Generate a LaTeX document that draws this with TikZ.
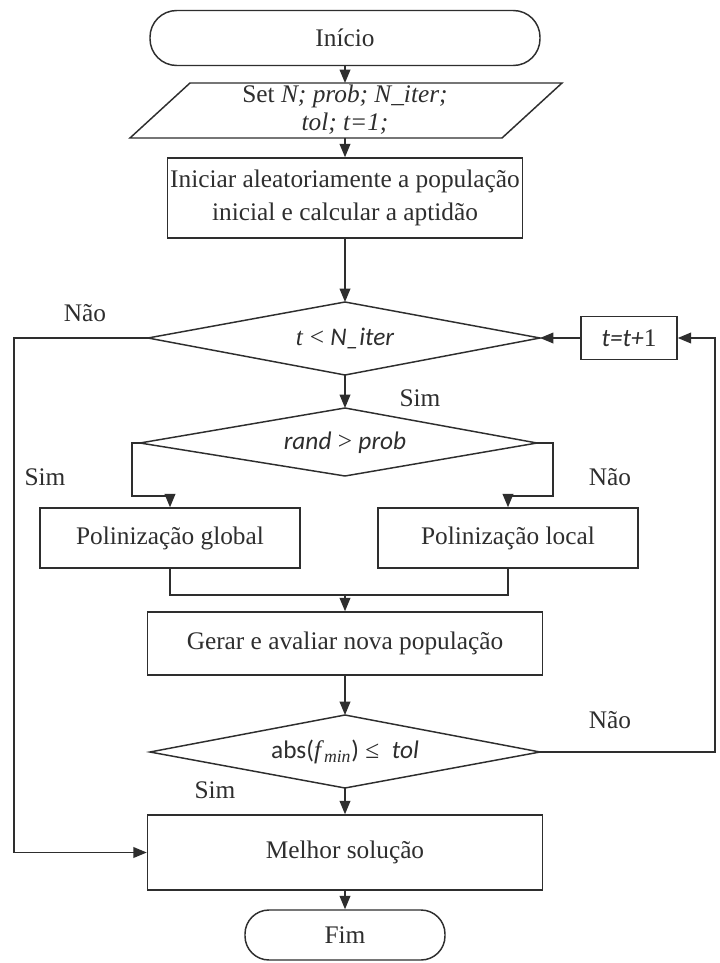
\documentclass[tikz,border=0pt]{standalone}
\usepackage{fontspec}
\setmainfont{Liberation Serif}
\newfontfamily\carl{Carlito}
\usetikzlibrary{arrows.meta}
\definecolor{ink}{HTML}{2E2E2E}
\newcommand{\mfs}{\fontsize{19}{25}\selectfont}
\begin{document}
\begin{tikzpicture}[x=0.75pt,y=-0.75pt, line width=1.1pt, draw=ink, text=ink,
  box/.style={draw, rectangle, inner sep=0pt, align=center, font=\mfs},
  term/.style={box, rounded corners=#1},
  lbl/.style={font=\mfs, inner sep=0pt},
  arr/.style={-{Triangle[length=10pt,width=8pt]}}]
\useasboundingbox[fill=white] (0,0) rectangle (719,963);

% terminals and boxes
\node[term=20pt, minimum width=292.5pt, minimum height=41.25pt] (inicio) at (345,38) {Início};
\node[box, minimum width=266.25pt, minimum height=60pt] (init) at (345,198)
  {Iniciar aleatoriamente a população\\inicial e calcular a aptidão};
\node[box, minimum width=72pt, minimum height=32.25pt] (inc) at (629,338) {{\carl\itshape t=t+}1};
\node[box, minimum width=195pt, minimum height=45pt] (glob) at (170,538) {Polinização global};
\node[box, minimum width=195pt, minimum height=45pt] (loc) at (508,538) {Polinização local};
\node[box, minimum width=296.25pt, minimum height=47.25pt] (gerar) at (345,643.5) {Gerar e avaliar nova população};
\node[box, minimum width=296.25pt, minimum height=56.25pt] (melhor) at (345,852.5) {Melhor solução};
\node[term=18pt, minimum width=150pt, minimum height=37.5pt] (fim) at (345,935) {Fim};

% parallelogram (input)
\coordinate (pTL) at (190,83);
\coordinate (pTR) at (562,83);
\coordinate (pBR) at (502,138);
\coordinate (pBL) at (130,138);
\coordinate (pT) at (345,83);
\coordinate (pB) at (345,138);
\draw (pTL) -- (pTR) -- (pBR) -- (pBL) -- cycle;
\node[lbl, align=center, font=\fontsize{19}{21}\selectfont] (param) at (345,110)
  {Set \textit{N; prob; N\_iter;}\\\textit{tol; t=1;}};

% diamond 1
\coordinate (d1l) at (148,338); \coordinate (d1r) at (540,338);
\coordinate (d1t) at (345,302); \coordinate (d1b) at (345,375);
\draw (d1l) -- (d1t) -- (d1r) -- (d1b) -- cycle;
\node[lbl] (d1) at (345,338) {\textit{t} < {\carl\itshape N\_iter}};

% diamond 2
\coordinate (d2l) at (140,443); \coordinate (d2r) at (537,443);
\coordinate (d2t) at (345,408); \coordinate (d2b) at (345,476);
\draw (d2l) -- (d2t) -- (d2r) -- (d2b) -- cycle;
\node[lbl] (d2) at (345,443) {{\carl\itshape rand} > {\carl\itshape prob}};

% diamond 3
\coordinate (d3l) at (150,752); \coordinate (d3r) at (540,752);
\coordinate (d3t) at (345,715); \coordinate (d3b) at (345,788);
\draw (d3l) -- (d3t) -- (d3r) -- (d3b) -- cycle;
\node[lbl] (d3) at (345,752) {{\carl abs(}\textit{f}\textsubscript{\textit{min}}{\carl )} ≤\ \ {\carl\itshape tol}};

% routing coordinates
\coordinate (lx1) at (14,338);
\coordinate (lx2) at (14,852.5);
\coordinate (rx1) at (715,752);
\coordinate (rx2) at (715,338);
\coordinate (g1) at (132,443); \coordinate (g2) at (132,496); \coordinate (g3) at (170,496);
\coordinate (l1) at (553,443); \coordinate (l2) at (553,496); \coordinate (l3) at (508,496);
\coordinate (m1) at (170,595); \coordinate (m2) at (508,595); \coordinate (mc) at (345,595);

% connectors
\draw[arr] (inicio.south) -- (pT);
\draw[arr] (pB) -- (init.north);
\draw[arr] (init.south) -- (d1t);
\draw[arr] (d1b) -- (d2t);
\draw[arr] (d1l) -- (lx1) -- (lx2) -- (melhor.west);
\draw[arr] (inc.west) -- (d1r);
\draw[arr] (d3r) -- (rx1) -- (rx2) -- (inc.east);
\draw[arr] (d2l) -- (g1) -- (g2) -- (g3) -- (glob.north);
\draw[arr] (d2r) -- (l1) -- (l2) -- (l3) -- (loc.north);
\draw (glob.south) -- (m1) -- (m2) -- (loc.south);
\draw[arr] (mc) -- (gerar.north);
\draw[arr] (gerar.south) -- (d3t);
\draw[arr] (d3b) -- (melhor.north);
\draw[arr] (melhor.south) -- (fim.north);

% labels
\node[lbl] (n1) at (85,313) {Não};
\node[lbl] (s1) at (420,398) {Sim};
\node[lbl] (s2) at (45,477) {Sim};
\node[lbl] (n2) at (610,477) {Não};
\node[lbl] (n3) at (610,720) {Não};
\node[lbl] (s3) at (215,790) {Sim};
\end{tikzpicture}
\end{document}
